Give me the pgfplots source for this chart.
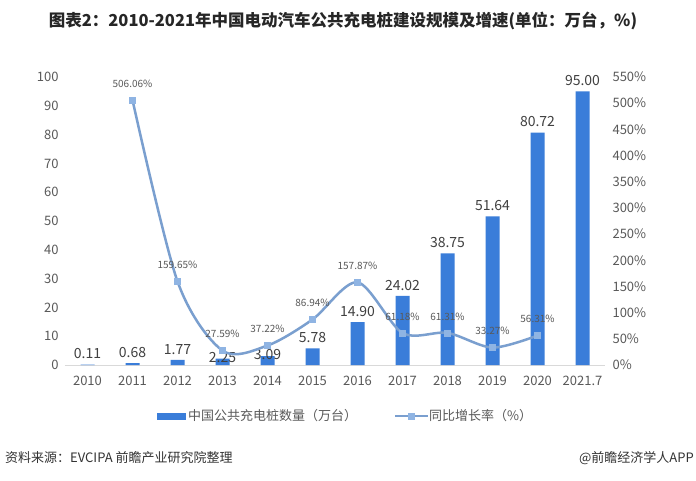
\documentclass[border=0pt]{standalone}
\usepackage{pgfplots}
\pgfplotsset{compat=1.18}
\usepackage{fontspec}
\setmainfont{Noto Sans CJK SC}
\definecolor{barblue}{HTML}{3A7DD9}
\definecolor{lineblue}{HTML}{7A9FCF}
\definecolor{mkblue}{HTML}{8FB4E3}
\definecolor{txt}{HTML}{595959}
\definecolor{lbl}{HTML}{404040}
\pgfplotstableread{
x y dy
0 0.11 2
1 0.68 2
2 1.77 2
3 2.25 -8
4 3.09 -7
5 5.78 2
6 14.90 2
7 24.02 2
8 38.75 2
9 51.64 2
10 80.72 2
11 95.00 2
}\bars
\pgfplotstableread{
x y
1 506.06
2 159.65
3 27.59
4 37.22
5 86.94
6 157.87
7 61.18
8 61.31
9 33.27
10 56.31
}\rate
\begin{document}
\begin{tikzpicture}
\path[use as bounding box, fill=white] (0,0) rectangle (696pt,480pt);
\node[font=\bfseries\fontsize{16.5}{18}\selectfont, text=black!85] at (343pt,459pt) {图表2：2010-2021年中国电动汽车公共充电桩建设规模及增速(单位：万台，\%)};
\begin{axis}[
  at={(65pt,115pt)}, anchor=south west, scale only axis,
  width=540pt, height=288pt,
  xmin=-0.5, xmax=11.5, ymin=0, ymax=100,
  xtick={0,...,11}, xticklabels={2010,2011,2012,2013,2014,2015,2016,2017,2018,2019,2020,2021.7},
  ytick={0,10,...,100},
  axis x line*=bottom, axis y line*=left,
  x axis line style={draw=black!15, line width=0.8pt, -},
  y axis line style={draw=none},
  major tick length=0pt,
  tick label style={font=\fontsize{13}{15}\selectfont, text=txt},
  /pgf/number format/assume math mode=true,
  xticklabel style={yshift=-8pt},
  yticklabel style={xshift=-3pt},
  clip=false,
]
\addplot[ybar, bar width=14pt, fill=barblue, draw=none,
  nodes near coords={\pgfmathprintnumber[fixed,fixed zerofill,precision=2]{\pgfplotspointmeta}},
  visualization depends on={\thisrow{dy} \as \dy},
  nodes near coords style={yshift=\dy pt, font=\fontsize{14}{16}\selectfont, text=lbl}]
  table[x=x,y=y] {\bars};
\end{axis}
\begin{axis}[
  at={(65pt,115pt)}, anchor=south west, scale only axis,
  width=540pt, height=288pt,
  xmin=-0.5, xmax=11.5, ymin=0, ymax=550,
  ytick={0,50,...,550},
  yticklabel={\pgfmathprintnumber{\tick}\%},
  axis y line*=right, axis x line=none,
  y axis line style={draw=none},
  major tick length=0pt,
  tick label style={font=\fontsize{13}{15}\selectfont, text=txt},
  /pgf/number format/assume math mode=true,
  yticklabel style={xshift=4pt},
  clip=false,
]
\addplot[smooth, lineblue, line width=2.5pt, mark=square*, mark size=3pt,
  mark options={fill=mkblue, draw=mkblue, line width=0.5pt},
  nodes near coords={\pgfmathprintnumber[fixed,fixed zerofill,precision=2]{\pgfplotspointmeta}\%},
  nodes near coords style={font=\fontsize{10}{12}\selectfont, text=txt, yshift=9pt}]
  table[x=x,y=y] {\rate};
\end{axis}
% legend
\fill[barblue] (157pt,60.5pt) rectangle (186pt,67.5pt);
\node[anchor=west, font=\fontsize{13}{15}\selectfont, text=txt, inner sep=1pt] at (187pt,64pt) {中国公共充电桩数量（万台）};
\draw[lineblue, line width=2.5pt] (395pt,64pt) -- (428pt,64pt);
\fill[mkblue] (408pt,60.5pt) rectangle (415pt,67.5pt);
\node[anchor=west, font=\fontsize{13}{15}\selectfont, text=txt, inner sep=1pt] at (428pt,64pt) {同比增长率（\%）};
% footer
\node[anchor=west, font=\fontsize{13}{15}\selectfont, text=black!80, inner sep=0pt] at (5pt,22pt) {资料来源：EVCIPA 前瞻产业研究院整理};
\node[anchor=east, font=\fontsize{13}{15}\selectfont, text=black!80, inner sep=0pt] at (694pt,22pt) {@前瞻经济学人APP};
\end{tikzpicture}
\end{document}
